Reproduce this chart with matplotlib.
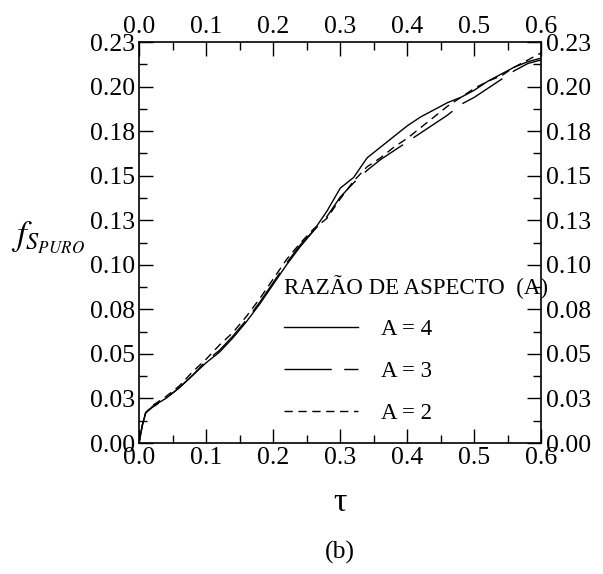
import numpy as np
import matplotlib
matplotlib.use('Agg')
import matplotlib.pyplot as plt
from matplotlib.ticker import MultipleLocator, FixedLocator

plt.rcParams['font.family'] = 'Liberation Serif'
plt.rcParams['mathtext.fontset'] = 'stix'

# tempo adimensional
tau = [0.0, 0.005, 0.01, 0.02, 0.04, 0.06, 0.08, 0.10, 0.12, 0.14, 0.16, 0.18,
       0.20, 0.22, 0.24, 0.26, 0.28, 0.30, 0.32, 0.34, 0.36, 0.38, 0.40, 0.42,
       0.44, 0.46, 0.48, 0.50, 0.52, 0.54, 0.56, 0.58, 0.60]

# fracao solidificada para cada razao de aspecto
fs_a4 = [0.0, 0.010, 0.017, 0.0205, 0.025, 0.031, 0.038, 0.045, 0.051, 0.059,
         0.068, 0.078, 0.089, 0.100, 0.110, 0.119, 0.130, 0.143, 0.149, 0.160,
         0.166, 0.172, 0.178, 0.183, 0.187, 0.191, 0.194, 0.198, 0.203, 0.207,
         0.211, 0.214, 0.216]
fs_a3 = [0.0, 0.010, 0.017, 0.020, 0.025, 0.031, 0.038, 0.046, 0.052, 0.060,
         0.069, 0.079, 0.090, 0.101, 0.111, 0.119, 0.127, 0.138, 0.146, 0.153,
         0.159, 0.164, 0.169, 0.174, 0.179, 0.184, 0.190, 0.194, 0.199, 0.204,
         0.209, 0.213, 0.215]
fs_a2 = [0.0, 0.010, 0.017, 0.021, 0.026, 0.032, 0.040, 0.047, 0.055, 0.062,
         0.071, 0.081, 0.092, 0.103, 0.112, 0.120, 0.126, 0.137, 0.147, 0.155,
         0.160, 0.166, 0.171, 0.177, 0.183, 0.189, 0.194, 0.199, 0.203, 0.206,
         0.211, 0.215, 0.219]

y_ticks = [0.0, 0.025, 0.05, 0.075, 0.10, 0.125, 0.15, 0.175, 0.20, 0.225]
y_labels = ['0.00', '0.03', '0.05', '0.08', '0.10', '0.13', '0.15', '0.18', '0.20', '0.23']

fsize = 18.5
leg_size = 16.5

fig = plt.figure(figsize=(6.03, 5.74), dpi=100)
ax = fig.add_axes([0.2305, 0.2282, 0.6675, 0.6986])

ax.plot(tau, fs_a4, color='black', lw=1.0, label='A = 4')
ax.plot(tau, fs_a3, color='black', lw=1.0, linestyle=(0, (34, 9)), label='A = 3')
ax.plot(tau, fs_a2, color='black', lw=1.0, linestyle=(0, (6, 4)), label='A = 2')

ax.set_xlim(0, 0.6)
ax.set_ylim(0, 0.225)
ax.xaxis.set_major_locator(MultipleLocator(0.1))
ax.xaxis.set_minor_locator(MultipleLocator(0.05))
ax.yaxis.set_major_locator(FixedLocator(y_ticks))
ax.yaxis.set_minor_locator(MultipleLocator(0.0125))
ax.set_yticklabels(y_labels)
ax.set_xticklabels(['%.1f' % v for v in ax.get_xticks()])

ax.tick_params(which='both', direction='in', top=True, right=True,
               labeltop=True, labelright=True, labelsize=fsize, width=1.0, pad=3)
ax.tick_params(which='major', length=10)
ax.tick_params(which='minor', length=5.5)
for s in ax.spines.values():
    s.set_linewidth(1.2)

ax.set_xlabel('\u03c4', fontsize=24, labelpad=13)
fig.text(0.08, 0.587, r'$f_{S_{PURO}}$', fontsize=25, ha='center', va='center')
fig.text(0.563, 0.037, '(b)', fontsize=fsize, ha='center', va='center')

ax.legend(loc='upper left', bbox_to_anchor=(0.333, 0.448), frameon=False,
          fontsize=leg_size, title='RAZÃO DE ASPECTO  (A)', title_fontsize=leg_size,
          alignment='left', handlelength=3.2, handletextpad=1.0, labelspacing=0.9,
          borderpad=0.0)

fig.savefig('out.png', dpi=100)
